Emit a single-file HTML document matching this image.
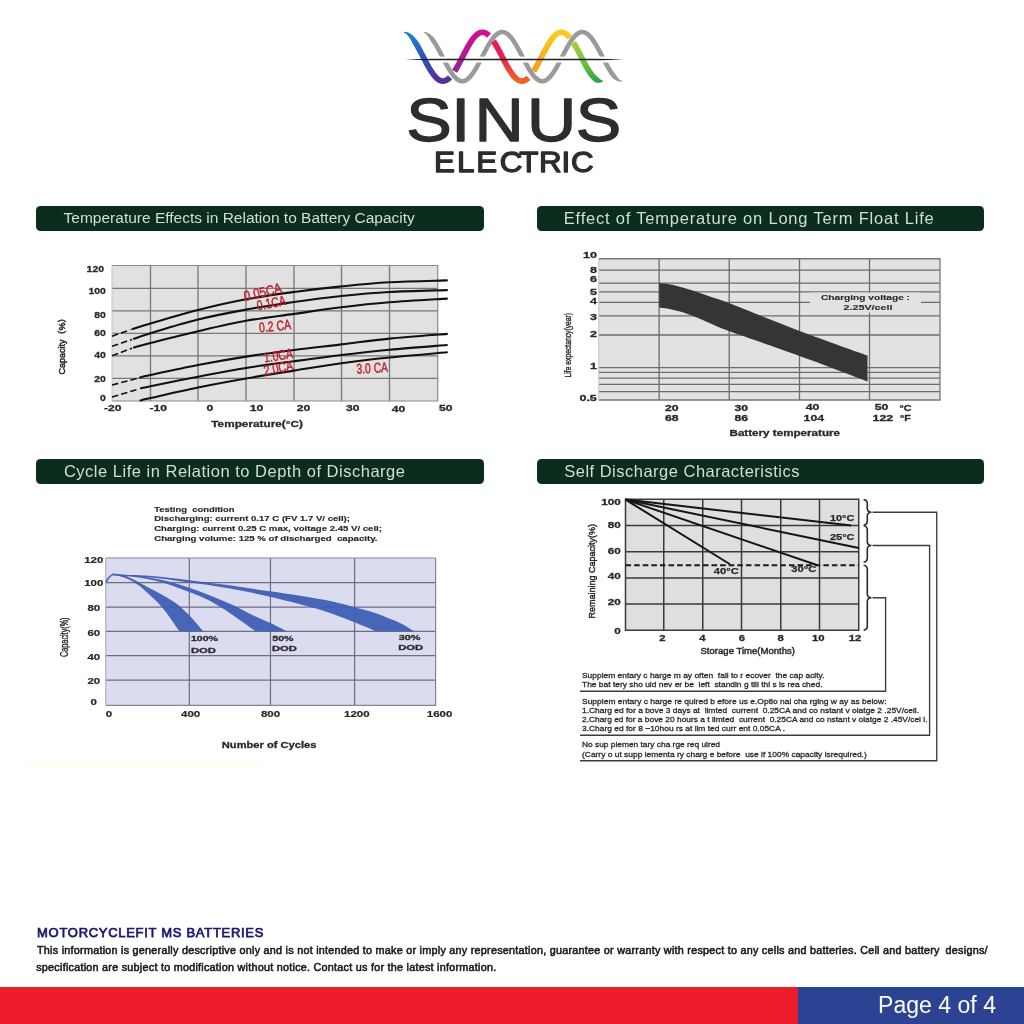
<!DOCTYPE html>
<html lang="en">
<head>
<meta charset="utf-8">
<title>Sinus Electric - Battery Characteristics - Page 4 of 4</title>
<style>
*{box-sizing:border-box;margin:0;padding:0}
html,body{width:1024px;height:1024px;background:#fff;overflow:hidden}
body{position:relative;font-family:"Liberation Sans",sans-serif;color:#222}
svg{position:absolute;left:0;top:0;overflow:visible}
svg text{font-family:"Liberation Sans",sans-serif}
.bar{position:absolute;height:24.2px;width:447.5px;background:#0b2e1c;border-radius:4.5px;color:#d2ded5;font-size:15.5px;font-weight:normal;line-height:24.4px;white-space:nowrap;padding-left:27.5px}
#t1{left:36.4px;top:206.4px;padding-left:27.2px}
#t2{left:536.75px;top:206.4px;font-size:16.5px;letter-spacing:0.8px;padding-left:27px}
#t3{left:36.4px;top:459.4px;font-size:16.5px;letter-spacing:0.51px}
#t4{left:536.75px;top:459.4px;font-size:16.5px;letter-spacing:0.49px}
.foot-title{position:absolute;left:37.1px;top:926.3px;font-size:13px;font-weight:normal;color:#1b1a70;-webkit-text-stroke:0.75px #1b1a70;white-space:nowrap;line-height:14px;letter-spacing:0.7px}
.foot-text{position:absolute;left:37px;font-size:10.8px;letter-spacing:0.25px;color:#1a1a1a;-webkit-text-stroke:0.55px #1a1a1a;white-space:nowrap;line-height:12px}
#redbar{position:absolute;left:0;top:987px;width:798px;height:37px;background:#ec1c2b}
#bluebar{position:absolute;left:798px;top:987px;width:226px;height:37px;background:#2c4293}
#pageno{position:absolute;left:878px;top:991.4px;font-size:23.07px;line-height:28px;color:#fff;white-space:nowrap}
</style>
</head>
<body>
<header id="logo">
<svg id="logosvg" width="1024" height="200" viewBox="0 0 1024 200">
<defs>
<linearGradient id="gb" gradientUnits="userSpaceOnUse" x1="0" y1="30" x2="0" y2="84"><stop offset="0" stop-color="#1d8ad2"/><stop offset="0.5" stop-color="#2a55b8"/><stop offset="1" stop-color="#5a2a9c"/></linearGradient>
<linearGradient id="gm" gradientUnits="userSpaceOnUse" x1="0" y1="30" x2="0" y2="84"><stop offset="0" stop-color="#d40f8d"/><stop offset="0.5" stop-color="#b01a96"/><stop offset="1" stop-color="#7e2a9c"/></linearGradient>
<linearGradient id="gr" gradientUnits="userSpaceOnUse" x1="0" y1="30" x2="0" y2="84"><stop offset="0" stop-color="#e6175f"/><stop offset="0.5" stop-color="#ea2050"/><stop offset="1" stop-color="#f26b21"/></linearGradient>
<linearGradient id="gy" gradientUnits="userSpaceOnUse" x1="0" y1="30" x2="0" y2="84"><stop offset="0" stop-color="#f9cf1e"/><stop offset="0.5" stop-color="#f8b01e"/><stop offset="1" stop-color="#f58a1f"/></linearGradient>
<linearGradient id="gg" gradientUnits="userSpaceOnUse" x1="0" y1="30" x2="0" y2="84"><stop offset="0" stop-color="#b2d235"/><stop offset="0.5" stop-color="#86c93a"/><stop offset="1" stop-color="#1fa246"/></linearGradient>
</defs>
<g id="wave">
<path d="M423.91 32.55 L424.78 33.1 L425.59 33.77 L426.38 34.55 L427.15 35.45 L427.9 36.46 L428.65 37.59 L429.4 38.84 L430.16 40.18 L431.11 41.5 L432.07 42.93 L433.04 44.46 L434.02 46.08 L435 47.79 L435.98 49.56 L436.97 51.38 L437.96 53.25 L438.96 55.15 L439.96 57.08 L440.96 59.01 L441.96 60.94 L442.97 62.85 L443.98 64.74 L444.99 66.59 L446.01 68.39 L447.03 70.14 L448.05 71.81 L449.09 73.41 L450.13 74.92 L451.18 76.33 L452.25 77.65 L453.34 78.85 L454.45 79.94 L455.58 80.91 L456.76 81.75 L457.98 82.44 L459.25 82.97 L460.56 83.33 L461.9 83.49 L463.24 83.45 L464.57 83.21 L465.87 82.78 L467.11 82.18 L468.32 81.43 L469.48 80.54 L470.6 79.52 L471.7 78.39 L472.78 77.14 L473.84 75.78 L474.89 74.33 L475.93 72.78 L476.96 71.15 L477.98 69.45 L479 67.68 L480.02 65.86 L481.03 63.99 L482.04 62.09 L483.04 60.17 L484.04 58.24 L485.04 56.31 L486.04 54.39 L487.03 52.5 L488.02 50.64 L489.01 48.84 L489.99 47.1 L490.97 45.43 L491.95 43.84 L492.91 42.35 L493.87 40.96 L494.82 39.69 L495.75 38.54 L496.66 37.52 L497.55 36.65 L498.42 35.91 L499.24 35.33 L500.02 34.88 L500.75 34.57 L501.44 34.38 L502.1 34.3 L502.76 34.32 L503.43 34.45 L504.13 34.68 L504.89 35.04 L505.68 35.54 L506.52 36.19 L507.4 36.98 L508.3 37.91 L509.22 38.98 L510.16 40.18 L511.11 41.5 L512.07 42.93 L513.04 44.46 L514.02 46.08 L515 47.79 L515.98 49.56 L516.97 51.38 L517.96 53.25 L518.96 55.15 L519.96 57.08 L520.96 59.01 L521.96 60.94 L522.97 62.85 L523.98 64.74 L524.99 66.59 L526.01 68.39 L527.03 70.14 L528.05 71.81 L529.09 73.41 L530.13 74.92 L531.18 76.33 L532.25 77.65 L533.34 78.85 L534.45 79.94 L535.58 80.91 L536.76 81.75 L537.98 82.44 L539.25 82.97 L540.56 83.33 L541.9 83.49 L543.24 83.45 L544.57 83.21 L545.87 82.78 L547.11 82.18 L548.32 81.43 L549.48 80.54 L550.6 79.52 L551.7 78.39 L552.78 77.14 L553.84 75.78 L554.89 74.33 L555.93 72.78 L556.96 71.15 L557.98 69.45 L559 67.68 L560.02 65.86 L561.03 63.99 L562.04 62.09 L563.04 60.17 L564.04 58.24 L565.04 56.31 L566.04 54.39 L567.03 52.5 L568.02 50.64 L569.01 48.84 L569.99 47.1 L570.97 45.43 L571.95 43.84 L572.91 42.35 L573.87 40.96 L574.82 39.69 L575.75 38.54 L576.66 37.52 L577.55 36.65 L578.42 35.91 L579.24 35.33 L580.02 34.88 L580.75 34.57 L581.44 34.38 L582.1 34.3 L582.76 34.32 L583.43 34.45 L584.13 34.68 L584.89 35.04 L585.68 35.54 L586.52 36.19 L587.4 36.98 L588.3 37.91 L589.22 38.98 L590.16 40.18 L591.11 41.5 L592.07 42.93 L593.04 44.46 L594.02 46.08 L595 47.79 L595.98 49.56 L596.97 51.38 L597.96 53.25 L598.96 55.15 L599.96 57.08 L600.96 59.01 L601.96 60.94 L602.97 62.85 L603.98 64.74 L604.99 66.59 L606.01 68.39 L607.03 70.14 L608.05 71.81 L609.09 73.41 L610.13 74.92 L611.18 76.33 L612.25 77.65 L613.5 78.7 L614.77 79.6 L616.03 80.34 L617.28 80.93 L618.52 81.35 L619.72 81.59 L620.89 81.65 L621.98 81.54 L622.02 80.85 L621.11 80.49 L620.28 80.01 L619.48 79.41 L618.72 78.69 L617.97 77.85 L617.23 76.9 L616.5 75.84 L615.75 74.66 L614.82 73.51 L613.87 72.24 L612.91 70.85 L611.95 69.36 L610.97 67.77 L609.99 66.1 L609.01 64.36 L608.02 62.56 L607.03 60.7 L606.04 58.81 L605.04 56.89 L604.04 54.96 L603.04 53.03 L602.04 51.11 L601.03 49.21 L600.02 47.34 L599 45.52 L597.98 43.75 L596.96 42.05 L595.93 40.42 L594.89 38.87 L593.84 37.42 L592.78 36.06 L591.7 34.81 L590.6 33.68 L589.48 32.66 L588.32 31.77 L587.11 31.02 L585.87 30.42 L584.57 29.99 L583.24 29.75 L581.9 29.71 L580.56 29.87 L579.25 30.23 L577.98 30.76 L576.76 31.45 L575.58 32.29 L574.45 33.26 L573.34 34.35 L572.25 35.55 L571.18 36.87 L570.13 38.28 L569.09 39.79 L568.05 41.39 L567.03 43.06 L566.01 44.81 L564.99 46.61 L563.98 48.46 L562.97 50.35 L561.96 52.26 L560.96 54.19 L559.96 56.12 L558.96 58.05 L557.96 59.95 L556.97 61.82 L555.98 63.64 L555 65.41 L554.02 67.12 L553.04 68.74 L552.07 70.27 L551.11 71.7 L550.16 73.02 L549.22 74.22 L548.3 75.29 L547.4 76.22 L546.52 77.01 L545.68 77.66 L544.89 78.16 L544.13 78.52 L543.43 78.75 L542.76 78.88 L542.1 78.9 L541.44 78.82 L540.75 78.63 L540.02 78.32 L539.24 77.87 L538.42 77.29 L537.55 76.55 L536.66 75.68 L535.75 74.66 L534.82 73.51 L533.87 72.24 L532.91 70.85 L531.95 69.36 L530.97 67.77 L529.99 66.1 L529.01 64.36 L528.02 62.56 L527.03 60.7 L526.04 58.81 L525.04 56.89 L524.04 54.96 L523.04 53.03 L522.04 51.11 L521.03 49.21 L520.02 47.34 L519 45.52 L517.98 43.75 L516.96 42.05 L515.93 40.42 L514.89 38.87 L513.84 37.42 L512.78 36.06 L511.7 34.81 L510.6 33.68 L509.48 32.66 L508.32 31.77 L507.11 31.02 L505.87 30.42 L504.57 29.99 L503.24 29.75 L501.9 29.71 L500.56 29.87 L499.25 30.23 L497.98 30.76 L496.76 31.45 L495.58 32.29 L494.45 33.26 L493.34 34.35 L492.25 35.55 L491.18 36.87 L490.13 38.28 L489.09 39.79 L488.05 41.39 L487.03 43.06 L486.01 44.81 L484.99 46.61 L483.98 48.46 L482.97 50.35 L481.96 52.26 L480.96 54.19 L479.96 56.12 L478.96 58.05 L477.96 59.95 L476.97 61.82 L475.98 63.64 L475 65.41 L474.02 67.12 L473.04 68.74 L472.07 70.27 L471.11 71.7 L470.16 73.02 L469.22 74.22 L468.3 75.29 L467.4 76.22 L466.52 77.01 L465.68 77.66 L464.89 78.16 L464.13 78.52 L463.43 78.75 L462.76 78.88 L462.1 78.9 L461.44 78.82 L460.75 78.63 L460.02 78.32 L459.24 77.87 L458.42 77.29 L457.55 76.55 L456.66 75.68 L455.75 74.66 L454.82 73.51 L453.87 72.24 L452.91 70.85 L451.95 69.36 L450.97 67.77 L449.99 66.1 L449.01 64.36 L448.02 62.56 L447.03 60.7 L446.04 58.81 L445.04 56.89 L444.04 54.96 L443.04 53.03 L442.04 51.11 L441.03 49.21 L440.02 47.34 L439 45.52 L437.98 43.75 L436.96 42.05 L435.93 40.42 L434.89 38.87 L433.84 37.42 L432.6 36.21 L431.35 35.13 L430.1 34.19 L428.85 33.4 L427.62 32.77 L426.41 32.3 L425.22 32 L424.09 31.88Z" fill="#9a9a9a"/>
<rect x="404" y="56.6" width="220" height="5.9" fill="#fff"/>
<path d="M403.96 32.76 L404.84 33.13 L405.68 33.62 L406.48 34.24 L407.26 34.98 L408.03 35.84 L408.8 36.82 L409.57 37.92 L410.33 39.15 L411.1 40.49 L411.88 41.93 L412.65 43.48 L413.53 45.07 L414.5 46.7 L415.47 48.4 L416.45 50.18 L417.44 52.01 L418.43 53.89 L419.42 55.8 L420.42 57.74 L421.42 59.68 L422.43 61.62 L423.44 63.54 L424.45 65.43 L425.47 67.29 L426.49 69.1 L427.52 70.84 L428.55 72.52 L429.6 74.12 L430.65 75.62 L431.73 77.04 L432.82 78.35 L433.94 79.56 L435.09 80.64 L436.28 81.6 L437.52 82.43 L438.82 83.1 L440.19 83.61 L441.6 83.91 L443.04 84 L444.48 83.87 L445.89 83.52 L447.24 82.98 L448.53 82.28 L449.76 81.42 L450.95 80.43 L452.09 79.32 L447.91 75.3 L447.05 76.13 L446.24 76.82 L445.47 77.35 L444.76 77.74 L444.11 78 L443.52 78.15 L442.96 78.2 L442.4 78.17 L441.81 78.04 L441.18 77.8 L440.48 77.44 L439.72 76.94 L438.91 76.28 L438.06 75.48 L437.18 74.53 L436.27 73.44 L435.35 72.21 L434.4 70.87 L433.45 69.41 L432.48 67.85 L431.51 66.2 L430.53 64.47 L429.55 62.68 L428.56 60.83 L427.57 58.94 L426.58 57.02 L425.58 55.08 L424.58 53.14 L423.57 51.2 L422.56 49.29 L421.55 47.4 L420.53 45.56 L419.5 43.77 L418.47 42.05 L417.35 40.45 L416.12 39.01 L414.9 37.66 L413.67 36.43 L412.43 35.32 L411.2 34.35 L409.97 33.52 L408.74 32.85 L407.52 32.35 L406.32 32.02 L405.16 31.87 L404.04 31.89Z" fill="url(#gb)"/>
<path d="M457.04 72.84 L458.09 71.16 L459.13 69.41 L460.17 67.59 L461.2 65.72 L462.22 63.81 L463.24 61.87 L464.26 59.91 L465.27 57.94 L466.28 55.99 L467.29 54.05 L468.29 52.14 L469.29 50.29 L470.28 48.49 L471.27 46.76 L472.25 45.11 L473.22 43.56 L474.19 42.12 L475.14 40.79 L476.07 39.6 L476.98 38.54 L477.86 37.63 L478.71 36.87 L479.51 36.26 L480.25 35.8 L480.93 35.49 L481.56 35.3 L482.13 35.21 L482.69 35.21 L483.27 35.3 L483.9 35.5 L484.58 35.82 L485.33 36.28 L486.13 36.9 L486.98 37.66 L491.02 33.51 L489.85 32.44 L488.62 31.51 L487.35 30.73 L486.01 30.1 L484.61 29.66 L483.17 29.43 L481.7 29.43 L480.26 29.65 L478.85 30.08 L477.51 30.69 L476.23 31.47 L475.01 32.4 L473.83 33.45 L472.69 34.63 L471.58 35.92 L470.49 37.32 L469.41 38.82 L468.35 40.41 L467.3 42.09 L466.26 43.84 L465.22 45.65 L464.19 47.51 L463.17 49.42 L462.15 51.36 L461.13 53.32 L460.12 55.29 L459.11 57.24 L458.1 59.18 L457.1 61.09 L456.1 62.95 L455.1 64.76 L454.12 66.5 L453.13 68.15 L452.16 69.71Z" fill="url(#gm)"/>
<path d="M490.99 42.67 L491.95 44.15 L492.92 45.72 L493.89 47.39 L494.87 49.13 L495.86 50.93 L496.85 52.79 L497.85 54.69 L498.85 56.62 L499.85 58.56 L500.85 60.51 L501.86 62.45 L502.88 64.37 L503.89 66.25 L504.91 68.09 L505.94 69.88 L506.98 71.6 L508.02 73.24 L509.07 74.81 L510.14 76.28 L511.22 77.65 L512.33 78.92 L513.46 80.07 L514.64 81.11 L515.85 82.01 L517.13 82.77 L518.46 83.37 L519.86 83.78 L521.29 83.98 L522.74 83.96 L524.17 83.72 L525.56 83.28 L526.88 82.66 L528.15 81.87 L529.36 80.95 L530.52 79.89 L526.48 75.74 L525.64 76.5 L524.84 77.11 L524.1 77.57 L523.42 77.89 L522.8 78.09 L522.22 78.19 L521.67 78.19 L521.1 78.11 L520.49 77.93 L519.81 77.63 L519.08 77.19 L518.29 76.61 L517.46 75.87 L516.59 74.98 L515.69 73.95 L514.77 72.78 L513.83 71.49 L512.88 70.08 L511.91 68.56 L510.94 66.94 L509.97 65.24 L508.98 63.47 L507.99 61.64 L507 59.76 L506 57.84 L505 55.91 L504 53.96 L502.99 52.01 L501.98 50.08 L500.97 48.18 L499.95 46.31 L498.92 44.5 L497.89 42.74 L496.85 41.05 L495.81 39.44Z" fill="url(#gr)"/>
<path d="M536.04 72.84 L537.09 71.16 L538.13 69.41 L539.16 67.59 L540.19 65.73 L541.22 63.81 L542.24 61.87 L543.25 59.92 L544.27 57.95 L545.28 56 L546.28 54.06 L547.28 52.16 L548.28 50.3 L549.27 48.5 L550.26 46.77 L551.24 45.13 L552.21 43.58 L553.18 42.13 L554.13 40.81 L555.06 39.61 L555.97 38.55 L556.85 37.64 L557.7 36.88 L558.5 36.27 L559.24 35.81 L559.92 35.49 L560.55 35.3 L561.12 35.21 L561.68 35.21 L562.26 35.3 L562.88 35.5 L563.57 35.82 L564.31 36.27 L565.11 36.88 L565.96 37.65 L566.84 38.56 L567.75 39.62 L572.25 35.96 L571.14 34.66 L570 33.48 L568.82 32.42 L567.6 31.49 L566.32 30.71 L564.98 30.09 L563.58 29.66 L562.14 29.43 L560.68 29.43 L559.23 29.65 L557.83 30.08 L556.49 30.7 L555.21 31.49 L553.99 32.41 L552.82 33.47 L551.68 34.65 L550.56 35.94 L549.47 37.34 L548.4 38.84 L547.34 40.43 L546.29 42.1 L545.25 43.85 L544.21 45.66 L543.19 47.53 L542.16 49.44 L541.14 51.38 L540.12 53.33 L539.11 55.3 L538.1 57.25 L537.1 59.19 L536.09 61.1 L535.1 62.96 L534.1 64.76 L533.11 66.5 L532.13 68.15 L531.16 69.71Z" fill="url(#gy)"/>
<path d="M570.95 44.14 L571.93 45.75 L572.93 47.44 L573.92 49.22 L574.93 51.06 L575.94 52.95 L576.95 54.89 L577.97 56.86 L578.99 58.84 L580.01 60.82 L581.04 62.79 L582.07 64.73 L583.11 66.64 L584.15 68.5 L585.2 70.31 L586.25 72.04 L587.32 73.69 L588.39 75.26 L589.48 76.73 L590.59 78.09 L591.73 79.34 L592.89 80.47 L594.1 81.47 L595.36 82.34 L596.83 82.73 L598.29 82.84 L599.69 82.72 L600.97 82.38 L602.12 81.86 L603.13 81.17 L602.87 80.35 L601.84 80.16 L600.95 79.81 L600.19 79.34 L599.54 78.75 L598.96 78.08 L598.39 77.39 L597.61 76.85 L596.77 76.16 L595.9 75.31 L594.99 74.31 L594.06 73.17 L593.11 71.89 L592.15 70.49 L591.17 68.97 L590.18 67.35 L589.19 65.63 L588.19 63.85 L587.18 61.99 L586.17 60.09 L585.16 58.15 L584.14 56.18 L583.12 54.2 L582.1 52.22 L581.07 50.25 L580.04 48.31 L579 46.41 L577.96 44.56 L576.91 42.77 L575.85 41.05Z" fill="url(#gg)"/>
<path d="M405 59.5 Q420 58.6 440 58.7 L590 58.7 Q610 58.6 623.5 59.5 Q610 60.4 590 60.3 L440 60.3 Q420 60.4 405 59.5Z" fill="#1e1e1e"/>
</g>
<g id="wordmark" fill="#2e2d2e" stroke="#2e2d2e" stroke-linejoin="round">
<text transform="scale(1.115 1)" x="364.35 404.75 425.65 472.56 516.32" y="140.7" font-size="61.2" stroke-width="1.3">SINUS</text>
<text transform="scale(1.09 1)" x="398.17 419.17 436.97 458.39 476.33 494.5 515.14 523.76" y="171.8" font-size="28.8" stroke-width="1.3">ELECTRIC</text>
</g>
</svg>
</header>

<main>
<section id="s1">
<h2 class="bar" id="t1">Temperature Effects in Relation to Battery Capacity</h2>
<svg id="c1" width="1024" height="1024" viewBox="0 0 1024 1024">
<rect x="112.0" y="265.5" width="325.75" height="135.5" fill="#e1e1e1"/>
<path d="M150.5 265.5V401.0M198 265.5V401.0M246 265.5V401.0M294 265.5V401.0M341.5 265.5V401.0M389.5 265.5V401.0M112.0 288.3H437.75M112.0 310.9H437.75M112.0 333.4H437.75M112.0 355.9H437.75M112.0 378.3H437.75" stroke="#787878" stroke-width="1.3" fill="none"/>
<path d="M112.0 265.5H437.75V401.0H112.0" fill="none" stroke="#8a8a8a" stroke-width="1.2"/>
<path d="M112.0 265.5V401.0" fill="none" stroke="#c4c4c4" stroke-width="1"/>
<path d="M132.5 329 C135.5 328.08 139.58 326.67 150.5 323.5 C161.42 320.33 182.08 314.03 198 310 C213.92 305.97 230 302.3 246 299.3 C262 296.3 278.08 294.15 294 292 C309.92 289.85 325.58 288.02 341.5 286.4 C357.42 284.77 371.93 283.25 389.5 282.25 C407.07 281.25 437.33 280.71 446.9 280.4" stroke="#111" stroke-width="2.1" fill="none" stroke-linecap="round"/>
<path d="M112 336.25L130.5 329.7" stroke="#111" stroke-width="1.6" fill="none" stroke-dasharray="6.5 3"/>
<path d="M134 338.75 C136.75 337.82 139.83 336.41 150.5 333.2 C161.17 329.99 182.08 323.43 198 319.5 C213.92 315.57 230 312.52 246 309.6 C262 306.68 278.08 304.27 294 302 C309.92 299.73 325.58 297.67 341.5 296 C357.42 294.33 371.93 292.98 389.5 292 C407.07 291.02 437.33 290.42 446.9 290.1" stroke="#111" stroke-width="2.1" fill="none" stroke-linecap="round"/>
<path d="M112 346.25L132 339.45" stroke="#111" stroke-width="1.6" fill="none" stroke-dasharray="6.5 3"/>
<path d="M134 347.5 C136.75 346.75 139.83 345.71 150.5 343 C161.17 340.29 182.08 334.95 198 331.25 C213.92 327.55 230 323.69 246 320.8 C262 317.91 278.08 316.16 294 313.9 C309.92 311.64 325.58 309.19 341.5 307.25 C357.42 305.31 371.93 303.69 389.5 302.25 C407.07 300.81 437.33 299.21 446.9 298.6" stroke="#111" stroke-width="2.1" fill="none" stroke-linecap="round"/>
<path d="M112 355.75L132 348.2" stroke="#111" stroke-width="1.6" fill="none" stroke-dasharray="6.5 3"/>
<path d="M140 377.5 C141.75 377.08 140.83 377.08 150.5 375 C160.17 372.92 182.08 368.07 198 365 C213.92 361.93 230 359.1 246 356.6 C262 354.1 278.08 352.03 294 350 C309.92 347.97 325.58 346.3 341.5 344.4 C357.42 342.5 371.93 340.35 389.5 338.6 C407.07 336.85 437.33 334.68 446.9 333.9" stroke="#111" stroke-width="2.1" fill="none" stroke-linecap="round"/>
<path d="M112 385L138 378.2" stroke="#111" stroke-width="1.6" fill="none" stroke-dasharray="6.5 3"/>
<path d="M141 388.25 C142.58 387.91 141 388.12 150.5 386.2 C160 384.28 182.08 379.78 198 376.75 C213.92 373.72 230 370.58 246 368 C262 365.42 278.08 363.42 294 361.25 C309.92 359.08 325.58 356.93 341.5 355 C357.42 353.07 371.93 351.37 389.5 349.7 C407.07 348.03 437.33 345.78 446.9 345" stroke="#111" stroke-width="2.1" fill="none" stroke-linecap="round"/>
<path d="M112 397L139 388.95" stroke="#111" stroke-width="1.6" fill="none" stroke-dasharray="6.5 3"/>
<path d="M140.4 400.4 C142.08 400 140.9 400.15 150.5 398 C160.1 395.85 182.08 390.75 198 387.5 C213.92 384.25 230 381.32 246 378.5 C262 375.68 278.08 373.15 294 370.6 C309.92 368.05 325.58 365.38 341.5 363.2 C357.42 361.02 371.93 359.32 389.5 357.5 C407.07 355.68 437.33 353.12 446.9 352.25" stroke="#111" stroke-width="2.1" fill="none" stroke-linecap="round"/>
<text x="262.75" y="296.82" font-size="14" text-anchor="middle" textLength="38.5" lengthAdjust="spacingAndGlyphs" fill="#c2202c" stroke="#c2202c" stroke-width="0.45" transform="rotate(-13 262.75 292)">0.05CA</text>
<text x="271.25" y="307.82" font-size="14" text-anchor="middle" textLength="29.5" lengthAdjust="spacingAndGlyphs" fill="#c2202c" stroke="#c2202c" stroke-width="0.45" transform="rotate(-11 271.25 303)">0.1CA</text>
<text x="275" y="330.82" font-size="14" text-anchor="middle" textLength="32" lengthAdjust="spacingAndGlyphs" fill="#c2202c" stroke="#c2202c" stroke-width="0.45" transform="rotate(-6 275 326)">0.2 CA</text>
<text x="278.25" y="360.32" font-size="14" text-anchor="middle" textLength="29.5" lengthAdjust="spacingAndGlyphs" fill="#c2202c" stroke="#c2202c" stroke-width="0.45" transform="rotate(-9 278.25 355.5)">1.0CA</text>
<text x="278.25" y="372.82" font-size="14" text-anchor="middle" textLength="29.5" lengthAdjust="spacingAndGlyphs" fill="#c2202c" stroke="#c2202c" stroke-width="0.45" transform="rotate(-11 278.25 368)">2.0CA</text>
<text x="372.25" y="372.82" font-size="14" text-anchor="middle" textLength="31.5" lengthAdjust="spacingAndGlyphs" fill="#c2202c" stroke="#c2202c" stroke-width="0.45" transform="rotate(-3 372.25 368)">3.0 CA</text>
<text x="104" y="272.16" font-size="9.9" font-weight="bold" text-anchor="end" textLength="17.4" lengthAdjust="spacingAndGlyphs" fill="#2a2a2a" stroke="#2a2a2a" stroke-width="0.3">120</text>
<text x="105.8" y="293.61" font-size="9.9" font-weight="bold" text-anchor="end" textLength="17.4" lengthAdjust="spacingAndGlyphs" fill="#2a2a2a" stroke="#2a2a2a" stroke-width="0.3">100</text>
<text x="105.8" y="318.41" font-size="9.9" font-weight="bold" text-anchor="end" textLength="11.6" lengthAdjust="spacingAndGlyphs" fill="#2a2a2a" stroke="#2a2a2a" stroke-width="0.3">80</text>
<text x="105.8" y="336.41" font-size="9.9" font-weight="bold" text-anchor="end" textLength="11.6" lengthAdjust="spacingAndGlyphs" fill="#2a2a2a" stroke="#2a2a2a" stroke-width="0.3">60</text>
<text x="105.8" y="357.91" font-size="9.9" font-weight="bold" text-anchor="end" textLength="11.6" lengthAdjust="spacingAndGlyphs" fill="#2a2a2a" stroke="#2a2a2a" stroke-width="0.3">40</text>
<text x="105.8" y="382.16" font-size="9.9" font-weight="bold" text-anchor="end" textLength="11.6" lengthAdjust="spacingAndGlyphs" fill="#2a2a2a" stroke="#2a2a2a" stroke-width="0.3">20</text>
<text x="105.8" y="400.91" font-size="9.9" font-weight="bold" text-anchor="end" textLength="5.8" lengthAdjust="spacingAndGlyphs" fill="#2a2a2a" stroke="#2a2a2a" stroke-width="0.3">0</text>
<text x="112.7" y="411.37" font-size="9.5" font-weight="bold" text-anchor="middle" textLength="17.55" lengthAdjust="spacingAndGlyphs" fill="#2a2a2a" stroke="#2a2a2a" stroke-width="0.3">-20</text>
<text x="158.2" y="411.37" font-size="9.5" font-weight="bold" text-anchor="middle" textLength="17.55" lengthAdjust="spacingAndGlyphs" fill="#2a2a2a" stroke="#2a2a2a" stroke-width="0.3">-10</text>
<text x="209.9" y="411.37" font-size="9.5" font-weight="bold" text-anchor="middle" textLength="6.75" lengthAdjust="spacingAndGlyphs" fill="#2a2a2a" stroke="#2a2a2a" stroke-width="0.3">0</text>
<text x="256.6" y="411.37" font-size="9.5" font-weight="bold" text-anchor="middle" textLength="13.5" lengthAdjust="spacingAndGlyphs" fill="#2a2a2a" stroke="#2a2a2a" stroke-width="0.3">10</text>
<text x="303.5" y="411.37" font-size="9.5" font-weight="bold" text-anchor="middle" textLength="13.5" lengthAdjust="spacingAndGlyphs" fill="#2a2a2a" stroke="#2a2a2a" stroke-width="0.3">20</text>
<text x="352.85" y="411.37" font-size="9.5" font-weight="bold" text-anchor="middle" textLength="13.5" lengthAdjust="spacingAndGlyphs" fill="#2a2a2a" stroke="#2a2a2a" stroke-width="0.3">30</text>
<text x="398.6" y="411.97" font-size="9.5" font-weight="bold" text-anchor="middle" textLength="13.5" lengthAdjust="spacingAndGlyphs" fill="#2a2a2a" stroke="#2a2a2a" stroke-width="0.3">40</text>
<text x="445.75" y="411.37" font-size="9.5" font-weight="bold" text-anchor="middle" textLength="13.5" lengthAdjust="spacingAndGlyphs" fill="#2a2a2a" stroke="#2a2a2a" stroke-width="0.3">50</text>
<text x="211.3" y="427.23" font-size="9.4" font-weight="bold" textLength="91.6" lengthAdjust="spacingAndGlyphs" fill="#2a2a2a" stroke="#2a2a2a" stroke-width="0.3">Temperature(°C)</text>
<text x="61.7" y="347.03" font-size="8.8" text-anchor="middle" textLength="61" lengthAdjust="spacingAndGlyphs" fill="#2a2a2a" stroke="#2a2a2a" stroke-width="0.5" transform="rotate(-90 61.7 344)" style="font-family:'Liberation Sans','Noto Sans CJK SC',sans-serif">Capacity（%）</text>
</svg>
</section>

<section id="s2">
<h2 class="bar" id="t2">Effect of Temperature on Long Term Float Life</h2>
<svg id="c2" width="1024" height="1024" viewBox="0 0 1024 1024">
<rect x="598.75" y="258.75" width="341.25" height="141.25" fill="#e2e2e2"/>
<path d="M659.1 258.75V400.0M729.2 258.75V400.0M799.5 258.75V400.0M869.5 258.75V400.0M598.75 270.1H940.0M598.75 283.1H940.0M598.75 291.9H940.0M598.75 302.4H940.0M598.75 315.9H940.0M598.75 335H940.0M598.75 367.7H940.0M598.75 372.3H940.0M598.75 378.1H940.0M598.75 384.4H940.0M598.75 391.6H940.0" stroke="#6c6c6c" stroke-width="1.3" fill="none"/>
<path d="M598.75 258.75H940.0V400.0H598.75" fill="none" stroke="#777" stroke-width="1.3"/>
<path d="M598.75 258.75V400.0" fill="none" stroke="#c4c4c4" stroke-width="1"/>
<rect x="810" y="292.6" width="111" height="20" fill="#e2e2e2"/>
<path d="M659.2 283 C661.33 283.3 666.87 283.67 672 284.8 C677.13 285.93 683.67 287.83 690 289.8 C696.33 291.77 703.42 294.35 710 296.6 C716.58 298.85 715.33 297.87 729.5 303.3 C743.67 308.73 772 320.48 795 329.2 C818 337.92 855.42 351.2 867.5 355.6 L867.5 381.4 C855.42 376.88 818 362.65 795 354.3 C772 345.95 743.67 336.47 729.5 331.3 C715.33 326.13 715.75 325.72 710 323.3 C704.25 320.88 700 318.75 695 316.8 C690 314.85 684.5 312.95 680 311.6 C675.5 310.25 671.47 309.38 668 308.7 C664.53 308.02 660.67 307.7 659.2 307.5Z" fill="#353535"/>
<text x="865.5" y="299.98" font-size="7.8" font-weight="bold" text-anchor="middle" textLength="89" lengthAdjust="spacingAndGlyphs" fill="#2a2a2a" stroke="#2a2a2a" stroke-width="0.12">Charging voltage :</text>
<text x="868" y="310.28" font-size="7.8" font-weight="bold" text-anchor="middle" textLength="49" lengthAdjust="spacingAndGlyphs" fill="#2a2a2a" stroke="#2a2a2a" stroke-width="0.12">2.25V/cell</text>
<text x="596.9" y="258.33" font-size="9.4" font-weight="bold" text-anchor="end" textLength="14" lengthAdjust="spacingAndGlyphs" fill="#2a2a2a" stroke="#2a2a2a" stroke-width="0.3">10</text>
<text x="596.9" y="273.33" font-size="9.4" font-weight="bold" text-anchor="end" textLength="7" lengthAdjust="spacingAndGlyphs" fill="#2a2a2a" stroke="#2a2a2a" stroke-width="0.3">8</text>
<text x="596.9" y="282.33" font-size="9.4" font-weight="bold" text-anchor="end" textLength="7" lengthAdjust="spacingAndGlyphs" fill="#2a2a2a" stroke="#2a2a2a" stroke-width="0.3">6</text>
<text x="596.9" y="294.83" font-size="9.4" font-weight="bold" text-anchor="end" textLength="7" lengthAdjust="spacingAndGlyphs" fill="#2a2a2a" stroke="#2a2a2a" stroke-width="0.3">5</text>
<text x="596.9" y="303.58" font-size="9.4" font-weight="bold" text-anchor="end" textLength="7" lengthAdjust="spacingAndGlyphs" fill="#2a2a2a" stroke="#2a2a2a" stroke-width="0.3">4</text>
<text x="596.9" y="320.33" font-size="9.4" font-weight="bold" text-anchor="end" textLength="7" lengthAdjust="spacingAndGlyphs" fill="#2a2a2a" stroke="#2a2a2a" stroke-width="0.3">3</text>
<text x="596.9" y="336.58" font-size="9.4" font-weight="bold" text-anchor="end" textLength="7" lengthAdjust="spacingAndGlyphs" fill="#2a2a2a" stroke="#2a2a2a" stroke-width="0.3">2</text>
<text x="596.9" y="369.08" font-size="9.4" font-weight="bold" text-anchor="end" textLength="7" lengthAdjust="spacingAndGlyphs" fill="#2a2a2a" stroke="#2a2a2a" stroke-width="0.3">1</text>
<text x="596.9" y="400.83" font-size="9.4" font-weight="bold" text-anchor="end" textLength="17.5" lengthAdjust="spacingAndGlyphs" fill="#2a2a2a" stroke="#2a2a2a" stroke-width="0.3">0.5</text>
<text x="671.75" y="410.67" font-size="9.5" font-weight="bold" text-anchor="middle" textLength="13.7" lengthAdjust="spacingAndGlyphs" fill="#2a2a2a" stroke="#2a2a2a" stroke-width="0.3">20</text>
<text x="671.75" y="420.87" font-size="9.5" font-weight="bold" text-anchor="middle" textLength="13.7" lengthAdjust="spacingAndGlyphs" fill="#2a2a2a" stroke="#2a2a2a" stroke-width="0.3">68</text>
<text x="741.25" y="410.67" font-size="9.5" font-weight="bold" text-anchor="middle" textLength="13.7" lengthAdjust="spacingAndGlyphs" fill="#2a2a2a" stroke="#2a2a2a" stroke-width="0.3">30</text>
<text x="741.25" y="420.87" font-size="9.5" font-weight="bold" text-anchor="middle" textLength="13.7" lengthAdjust="spacingAndGlyphs" fill="#2a2a2a" stroke="#2a2a2a" stroke-width="0.3">86</text>
<text x="812.5" y="410.07" font-size="9.5" font-weight="bold" text-anchor="middle" textLength="13.7" lengthAdjust="spacingAndGlyphs" fill="#2a2a2a" stroke="#2a2a2a" stroke-width="0.3">40</text>
<text x="813.9" y="421.37" font-size="9.5" font-weight="bold" text-anchor="middle" textLength="20.56" lengthAdjust="spacingAndGlyphs" fill="#2a2a2a" stroke="#2a2a2a" stroke-width="0.3">104</text>
<text x="881.5" y="410.07" font-size="9.5" font-weight="bold" text-anchor="middle" textLength="13.7" lengthAdjust="spacingAndGlyphs" fill="#2a2a2a" stroke="#2a2a2a" stroke-width="0.3">50</text>
<text x="882.9" y="421.37" font-size="9.5" font-weight="bold" text-anchor="middle" textLength="20.56" lengthAdjust="spacingAndGlyphs" fill="#2a2a2a" stroke="#2a2a2a" stroke-width="0.3">122</text>
<text x="905.5" y="410.9" font-size="9" font-weight="bold" text-anchor="middle" textLength="12.11" lengthAdjust="spacingAndGlyphs" fill="#2a2a2a" stroke="#2a2a2a" stroke-width="0.3">°C</text>
<text x="905.5" y="421.1" font-size="9" font-weight="bold" text-anchor="middle" textLength="10.91" lengthAdjust="spacingAndGlyphs" fill="#2a2a2a" stroke="#2a2a2a" stroke-width="0.3">°F</text>
<text x="729.5" y="436.23" font-size="9.4" font-weight="bold" textLength="110.5" lengthAdjust="spacingAndGlyphs" fill="#2a2a2a" stroke="#2a2a2a" stroke-width="0.3">Battery temperature</text>
<text x="567.5" y="348.47" font-size="9.5" text-anchor="middle" textLength="64.5" lengthAdjust="spacingAndGlyphs" fill="#2a2a2a" stroke="#2a2a2a" stroke-width="0.4" transform="rotate(-90 567.5 345.2)">Life expectancy(year)</text>
</svg>
</section>

<section id="s3">
<h2 class="bar" id="t3">Cycle Life in Relation to Depth of Discharge</h2>
<svg id="c3" width="1024" height="1024" viewBox="0 0 1024 1024">
<rect x="105.8" y="558.0" width="329.8" height="147.3" fill="#dcdcf1"/>
<path d="M189.3 558.0V705.3M270.45 558.0V705.3M354.6 558.0V705.3M105.8 582.7H435.6M105.8 607.1H435.6M105.8 631.3H435.6M105.8 655.7H435.6M105.8 680.2H435.6" stroke="#64647a" stroke-width="1.2" fill="none" opacity="0.92"/>
<path d="M105.8 558.0H435.6V705.3H105.8" fill="none" stroke="#85859a" stroke-width="1.2"/>
<path d="M105.8 558.0V705.3" fill="none" stroke="#a4a4c0" stroke-width="1"/>
<path d="M118 574.7 C120.83 574.77 128.88 574.83 135 575.1 C141.12 575.37 147.2 575.65 154.7 576.3 C162.2 576.95 170.57 577.87 180 579 C189.43 580.13 200.83 581.73 211.25 583.1 C221.67 584.48 232.71 585.89 242.5 587.25 C252.29 588.61 260.42 589.83 270 591.25 C279.58 592.67 289.79 594.13 300 595.8 C310.21 597.47 322.29 599.4 331.25 601.25 C340.21 603.1 346.46 604.92 353.75 606.9 C361.04 608.88 367.29 610.4 375 613.1 C382.71 615.8 393.54 620.07 400 623.1 C406.46 626.13 411.46 629.93 413.75 631.3 L376.25 631.3 C372.5 629.73 362.29 625.24 353.75 621.9 C345.21 618.56 333.96 614.2 325 611.25 C316.04 608.3 309.17 606.61 300 604.2 C290.83 601.79 279.58 599.03 270 596.8 C260.42 594.57 252.29 592.7 242.5 590.8 C232.71 588.9 221.67 587 211.25 585.4 C200.83 583.8 188.12 582.32 180 581.2 C171.88 580.08 168.33 579.4 162.5 578.7 C156.67 578 150.75 577.47 145 577 C139.25 576.53 130.83 576.08 128 575.9Z" fill="#3f5fb3" opacity="0.95"/>
<path d="M118 574.8 C120.33 574.9 127.18 575.05 132 575.4 C136.82 575.75 141.82 576.12 146.9 576.9 C151.98 577.68 156.98 578.78 162.5 580.1 C168.02 581.42 172.92 582.58 180 584.8 C187.08 587.02 196.67 590.24 205 593.4 C213.33 596.56 221.67 599.94 230 603.75 C238.33 607.56 248.33 613.08 255 616.25 C261.67 619.42 264.68 620.29 270 622.8 C275.32 625.31 284.08 629.88 286.9 631.3 L255.6 631.3 C252.38 629 241.97 621.47 236.25 617.5 C230.53 613.53 226.46 610.67 221.25 607.5 C216.04 604.33 211.88 601.65 205 598.5 C198.12 595.35 185.78 590.87 180 588.6 C174.22 586.33 174.52 586.25 170.3 584.9 C166.08 583.55 159.75 581.68 154.7 580.5 C149.65 579.32 144.45 578.52 140 577.8 C135.55 577.08 130 576.47 128 576.2Z" fill="#3f5fb3" opacity="0.95"/>
<path d="M118 574.9 C118.83 575.02 121.05 575.13 123 575.6 C124.95 576.07 127.02 576.57 129.7 577.7 C132.38 578.83 135.58 580.57 139.1 582.4 C142.62 584.23 146.9 586.62 150.8 588.7 C154.7 590.78 159.25 593.08 162.5 594.9 C165.75 596.72 167.38 597.68 170.3 599.6 C173.22 601.52 176.3 603.21 180 606.4 C183.7 609.59 188.65 614.6 192.5 618.75 C196.35 622.9 201.33 629.21 203.1 631.3 L179.4 631.3 C177.62 628.75 171.7 620.05 168.75 616 C165.8 611.95 164.04 609.73 161.7 607 C159.36 604.27 157.69 602.53 154.7 599.6 C151.71 596.67 147.4 592.4 143.75 589.4 C140.1 586.4 136.19 583.62 132.8 581.6 C129.41 579.58 125.7 578.27 123.4 577.3 C121.1 576.33 119.73 576.05 119 575.8Z" fill="#3f5fb3" opacity="0.95"/>
<path d="M106.39999999999999 581.6 Q108.8 576.4 112.9 574.5 Q118 574.6 126 576.2" stroke="#3f5fb3" stroke-width="1.8" fill="none" stroke-linecap="round" opacity="0.9"/>
<text x="93.8" y="562.86" font-size="8.6" font-weight="bold" text-anchor="middle" textLength="19.21" lengthAdjust="spacingAndGlyphs" fill="#2a2a2a" stroke="#2a2a2a" stroke-width="0.2">120</text>
<text x="93.8" y="586.46" font-size="8.6" font-weight="bold" text-anchor="middle" textLength="19.21" lengthAdjust="spacingAndGlyphs" fill="#2a2a2a" stroke="#2a2a2a" stroke-width="0.2">100</text>
<text x="93.8" y="610.66" font-size="8.6" font-weight="bold" text-anchor="middle" textLength="12.8" lengthAdjust="spacingAndGlyphs" fill="#2a2a2a" stroke="#2a2a2a" stroke-width="0.2">80</text>
<text x="93.8" y="635.56" font-size="8.6" font-weight="bold" text-anchor="middle" textLength="12.8" lengthAdjust="spacingAndGlyphs" fill="#2a2a2a" stroke="#2a2a2a" stroke-width="0.2">60</text>
<text x="93.8" y="659.76" font-size="8.6" font-weight="bold" text-anchor="middle" textLength="12.8" lengthAdjust="spacingAndGlyphs" fill="#2a2a2a" stroke="#2a2a2a" stroke-width="0.2">40</text>
<text x="93.8" y="683.66" font-size="8.6" font-weight="bold" text-anchor="middle" textLength="12.8" lengthAdjust="spacingAndGlyphs" fill="#2a2a2a" stroke="#2a2a2a" stroke-width="0.2">20</text>
<text x="93.8" y="705.46" font-size="8.6" font-weight="bold" text-anchor="middle" textLength="6.4" lengthAdjust="spacingAndGlyphs" fill="#2a2a2a" stroke="#2a2a2a" stroke-width="0.2">0</text>
<text x="109" y="716.86" font-size="8.6" font-weight="bold" text-anchor="middle" textLength="6.4" lengthAdjust="spacingAndGlyphs" fill="#2a2a2a" stroke="#2a2a2a" stroke-width="0.2">0</text>
<text x="190.6" y="716.86" font-size="8.6" font-weight="bold" text-anchor="middle" textLength="19.21" lengthAdjust="spacingAndGlyphs" fill="#2a2a2a" stroke="#2a2a2a" stroke-width="0.2">400</text>
<text x="270.5" y="716.86" font-size="8.6" font-weight="bold" text-anchor="middle" textLength="19.21" lengthAdjust="spacingAndGlyphs" fill="#2a2a2a" stroke="#2a2a2a" stroke-width="0.2">800</text>
<text x="356.8" y="716.86" font-size="8.6" font-weight="bold" text-anchor="middle" textLength="25.61" lengthAdjust="spacingAndGlyphs" fill="#2a2a2a" stroke="#2a2a2a" stroke-width="0.2">1200</text>
<text x="439.6" y="716.86" font-size="8.6" font-weight="bold" text-anchor="middle" textLength="25.61" lengthAdjust="spacingAndGlyphs" fill="#2a2a2a" stroke="#2a2a2a" stroke-width="0.2">1600</text>
<text x="221.8" y="747.56" font-size="9.2" font-weight="bold" textLength="94.6" lengthAdjust="spacingAndGlyphs" fill="#2a2a2a" stroke="#2a2a2a" stroke-width="0.3">Number of Cycles</text>
<text x="64.4" y="640.81" font-size="10.5" text-anchor="middle" textLength="39.5" lengthAdjust="spacingAndGlyphs" fill="#2a2a2a" stroke="#2a2a2a" stroke-width="0.4" transform="rotate(-90 64.4 637.2)">Capacity(%)</text>
<text x="190.9" y="641.45" font-size="8" font-weight="bold" textLength="27.1" lengthAdjust="spacingAndGlyphs" fill="#2a2a2a" stroke="#2a2a2a" stroke-width="0.3">100%</text>
<text x="272.3" y="640.75" font-size="8" font-weight="bold" textLength="21.2" lengthAdjust="spacingAndGlyphs" fill="#2a2a2a" stroke="#2a2a2a" stroke-width="0.3">50%</text>
<text x="398.7" y="640.15" font-size="8" font-weight="bold" textLength="21.8" lengthAdjust="spacingAndGlyphs" fill="#2a2a2a" stroke="#2a2a2a" stroke-width="0.3">30%</text>
<text x="190.9" y="652.65" font-size="8" font-weight="bold" textLength="25.1" lengthAdjust="spacingAndGlyphs" fill="#2a2a2a" stroke="#2a2a2a" stroke-width="0.3">DOD</text>
<text x="272" y="650.75" font-size="8" font-weight="bold" textLength="25" lengthAdjust="spacingAndGlyphs" fill="#2a2a2a" stroke="#2a2a2a" stroke-width="0.3">DOD</text>
<text x="398.2" y="649.95" font-size="8" font-weight="bold" textLength="25" lengthAdjust="spacingAndGlyphs" fill="#2a2a2a" stroke="#2a2a2a" stroke-width="0.3">DOD</text>
<text x="154.2" y="511.71" font-size="7.6" font-weight="bold" textLength="80.3" lengthAdjust="spacingAndGlyphs" fill="#2a2a2a" stroke="#2a2a2a" stroke-width="0.15" xml:space="preserve">Testing  condition</text>
<text x="154.2" y="521.31" font-size="7.6" font-weight="bold" textLength="195.8" lengthAdjust="spacingAndGlyphs" fill="#2a2a2a" stroke="#2a2a2a" stroke-width="0.15" xml:space="preserve">Discharging: current 0.17 C (FV 1.7 V/ cell);</text>
<text x="154.2" y="531.11" font-size="7.6" font-weight="bold" textLength="227.8" lengthAdjust="spacingAndGlyphs" fill="#2a2a2a" stroke="#2a2a2a" stroke-width="0.15" xml:space="preserve">Charging: current 0.25 C max, voltage 2.45 V/ cell;</text>
<text x="154.2" y="540.91" font-size="7.6" font-weight="bold" textLength="223.3" lengthAdjust="spacingAndGlyphs" fill="#2a2a2a" stroke="#2a2a2a" stroke-width="0.15" xml:space="preserve">Charging volume: 125 % of discharged  capacity.</text>
</svg>
</section>

<section id="s4">
<h2 class="bar" id="t4">Self Discharge Characteristics</h2>
<svg id="c4" width="1024" height="1024" viewBox="0 0 1024 1024">
<rect x="625.5" y="499.25" width="233.25" height="131" fill="#dfdfdf"/>
<path d="M663.75 499.25V630.25M702.75 499.25V630.25M741.5 499.25V630.25M780.75 499.25V630.25M819.5 499.25V630.25M625.5 525.5H858.75M625.5 551.75H858.75M625.5 578H858.75M625.5 604H858.75" stroke="#3a3a3a" stroke-width="1.5" fill="none"/>
<rect x="625.5" y="499.25" width="233.25" height="131" fill="none" stroke="#3a3a3a" stroke-width="1.5"/>
<path d="M625.5 565.25H858.75" stroke="#1c1c1c" stroke-width="1.8" stroke-dasharray="5.6 3" fill="none"/>
<path d="M625.5 499.6L730 564.25" stroke="#151515" stroke-width="2" fill="none"/>
<path d="M625.5 499.6L817.5 565.25" stroke="#151515" stroke-width="2" fill="none"/>
<path d="M625.5 499.6L858.75 548" stroke="#151515" stroke-width="2" fill="none"/>
<path d="M625.5 499.6L851.25 525.5" stroke="#151515" stroke-width="2" fill="none"/>
<text x="713.75" y="574.16" font-size="9.2" font-weight="bold" textLength="25" lengthAdjust="spacingAndGlyphs" fill="#2a2a2a" stroke="#2a2a2a" stroke-width="0.25">40°C</text>
<text x="791.25" y="572.16" font-size="9.2" font-weight="bold" textLength="25" lengthAdjust="spacingAndGlyphs" fill="#2a2a2a" stroke="#2a2a2a" stroke-width="0.25">30°C</text>
<text x="830" y="520.91" font-size="9.2" font-weight="bold" textLength="24.25" lengthAdjust="spacingAndGlyphs" fill="#2a2a2a" stroke="#2a2a2a" stroke-width="0.25">10°C</text>
<text x="830" y="539.91" font-size="9.2" font-weight="bold" textLength="24.5" lengthAdjust="spacingAndGlyphs" fill="#2a2a2a" stroke="#2a2a2a" stroke-width="0.25">25°C</text>
<text x="620.7" y="505.2" font-size="9.3" font-weight="bold" text-anchor="end" textLength="19.51" lengthAdjust="spacingAndGlyphs" fill="#2a2a2a" stroke="#2a2a2a" stroke-width="0.3">100</text>
<text x="620.7" y="528" font-size="9.3" font-weight="bold" text-anchor="end" textLength="13" lengthAdjust="spacingAndGlyphs" fill="#2a2a2a" stroke="#2a2a2a" stroke-width="0.3">80</text>
<text x="620.7" y="554" font-size="9.3" font-weight="bold" text-anchor="end" textLength="13" lengthAdjust="spacingAndGlyphs" fill="#2a2a2a" stroke="#2a2a2a" stroke-width="0.3">60</text>
<text x="620.7" y="579.2" font-size="9.3" font-weight="bold" text-anchor="end" textLength="13" lengthAdjust="spacingAndGlyphs" fill="#2a2a2a" stroke="#2a2a2a" stroke-width="0.3">40</text>
<text x="620.7" y="605.4" font-size="9.3" font-weight="bold" text-anchor="end" textLength="13" lengthAdjust="spacingAndGlyphs" fill="#2a2a2a" stroke="#2a2a2a" stroke-width="0.3">20</text>
<text x="620.7" y="633.7" font-size="9.3" font-weight="bold" text-anchor="end" textLength="6.5" lengthAdjust="spacingAndGlyphs" fill="#2a2a2a" stroke="#2a2a2a" stroke-width="0.3">0</text>
<text x="662.5" y="640.95" font-size="9.3" font-weight="bold" text-anchor="middle" textLength="6.3" lengthAdjust="spacingAndGlyphs" fill="#2a2a2a" stroke="#2a2a2a" stroke-width="0.3">2</text>
<text x="702.5" y="640.95" font-size="9.3" font-weight="bold" text-anchor="middle" textLength="6.3" lengthAdjust="spacingAndGlyphs" fill="#2a2a2a" stroke="#2a2a2a" stroke-width="0.3">4</text>
<text x="742" y="640.95" font-size="9.3" font-weight="bold" text-anchor="middle" textLength="6.3" lengthAdjust="spacingAndGlyphs" fill="#2a2a2a" stroke="#2a2a2a" stroke-width="0.3">6</text>
<text x="780.75" y="640.95" font-size="9.3" font-weight="bold" text-anchor="middle" textLength="6.3" lengthAdjust="spacingAndGlyphs" fill="#2a2a2a" stroke="#2a2a2a" stroke-width="0.3">8</text>
<text x="818.25" y="640.95" font-size="9.3" font-weight="bold" text-anchor="middle" textLength="12.6" lengthAdjust="spacingAndGlyphs" fill="#2a2a2a" stroke="#2a2a2a" stroke-width="0.3">10</text>
<text x="855" y="640.95" font-size="9.3" font-weight="bold" text-anchor="middle" textLength="12.6" lengthAdjust="spacingAndGlyphs" fill="#2a2a2a" stroke="#2a2a2a" stroke-width="0.3">12</text>
<text x="700.5" y="654.3" font-size="9.6" textLength="94.5" lengthAdjust="spacingAndGlyphs" fill="#2a2a2a" stroke="#2a2a2a" stroke-width="0.45">Storage Time(Months)</text>
<text x="592" y="574.5" font-size="9.6" text-anchor="middle" textLength="94.5" lengthAdjust="spacingAndGlyphs" fill="#2a2a2a" stroke="#2a2a2a" stroke-width="0.45" transform="rotate(-90 592 571.2)">Remaining Capacity(%)</text>
<path d="M863.6 499.6 Q867.3 500 867.3 503.8 L867.3 508.55 Q867.3 511.95 871.4 512.25 Q867.3 512.55 867.3 515.95 L867.3 521 Q867.3 524.8 863.6 525.2M863.6 525.8 Q867.3 526.2 867.3 530 L867.3 541.8 Q867.3 545.2 871.4 545.5 Q867.3 545.8 867.3 549.2 L867.3 558.1 Q867.3 561.9 863.6 562.3M863.6 565.3 Q867.3 565.7 867.3 569.5 L867.3 594.05 Q867.3 597.45 871.4 597.75 Q867.3 598.05 867.3 601.45 L867.3 626 Q867.3 629.8 863.6 630.2" stroke="#2a2a2a" stroke-width="1.6" fill="none"/>
<path d="M872.5 512.25H936.75V760.75H580 M872.5 545.5H929.6V735.25H580 M872.5 597.75H885.6V691.25H580" stroke="#3c3c3c" stroke-width="1.35" fill="none"/>
<text x="582" y="678.22" font-size="7.9" textLength="242.5" lengthAdjust="spacingAndGlyphs" fill="#2b2b2b" stroke="#2b2b2b" stroke-width="0.3" xml:space="preserve">Supplem entary c harge m ay often  fail to r ecover  the cap acity.</text>
<text x="582" y="686.72" font-size="7.9" textLength="240.5" lengthAdjust="spacingAndGlyphs" fill="#2b2b2b" stroke="#2b2b2b" stroke-width="0.3" xml:space="preserve">The bat tery sho uld nev er be  left  standin g till thi s is rea ched.</text>
<text x="582" y="704.47" font-size="7.9" textLength="304.5" lengthAdjust="spacingAndGlyphs" fill="#2b2b2b" stroke="#2b2b2b" stroke-width="0.3" xml:space="preserve">Supplem entary c harge re quired b efore us e.Optio nal cha rging w ay as below:</text>
<text x="582" y="713.22" font-size="7.9" textLength="337" lengthAdjust="spacingAndGlyphs" fill="#2b2b2b" stroke="#2b2b2b" stroke-width="0.3" xml:space="preserve">1.Charg ed for a bove 3 days at  limted  current  0.25CA and co nstant v olatge 2 .25V/cell.</text>
<text x="582" y="721.97" font-size="7.9" textLength="345.5" lengthAdjust="spacingAndGlyphs" fill="#2b2b2b" stroke="#2b2b2b" stroke-width="0.3" xml:space="preserve">2.Charg ed for a bove 20 hours a t limted  current  0.25CA and co nstant v olatge 2 .45V/cel l.</text>
<text x="582" y="730.97" font-size="7.9" textLength="203" lengthAdjust="spacingAndGlyphs" fill="#2b2b2b" stroke="#2b2b2b" stroke-width="0.3" xml:space="preserve">3.Charg ed for 8 ~10hou rs at lim ted curr ent 0.05CA .</text>
<text x="582" y="746.97" font-size="7.9" textLength="138" lengthAdjust="spacingAndGlyphs" fill="#2b2b2b" stroke="#2b2b2b" stroke-width="0.3" xml:space="preserve">No sup plemen tary cha rge req uired</text>
<text x="582" y="757.22" font-size="7.9" textLength="284.75" lengthAdjust="spacingAndGlyphs" fill="#2b2b2b" stroke="#2b2b2b" stroke-width="0.3" xml:space="preserve">(Carry o ut supp lementa ry charg e before  use if 100% capacity isrequired.)</text>
</svg>
</section>
</main>

<div id="ghost" style="position:absolute;left:28px;top:760.5px;width:237px;height:7px;background:#fefef2"></div>
<footer>
<div class="foot-title">MOTORCYCLEFIT MS BATTERIES</div>
<p class="foot-text" id="f1" style="top:944.1px">This information is generally descriptive only and is not intended to make or imply any representation, guarantee or warranty with respect to any cells and batteries. Cell and battery <span style="margin-left:2.6px">designs/</span></p>
<p class="foot-text" id="f2" style="top:961px;left:36.2px">specification are subject to modification without notice. Contact us for the latest information.</p>
<div id="redbar"></div>
<div id="bluebar"></div>
<div id="pageno">Page 4 of 4</div>
</footer>
</body>
</html>
